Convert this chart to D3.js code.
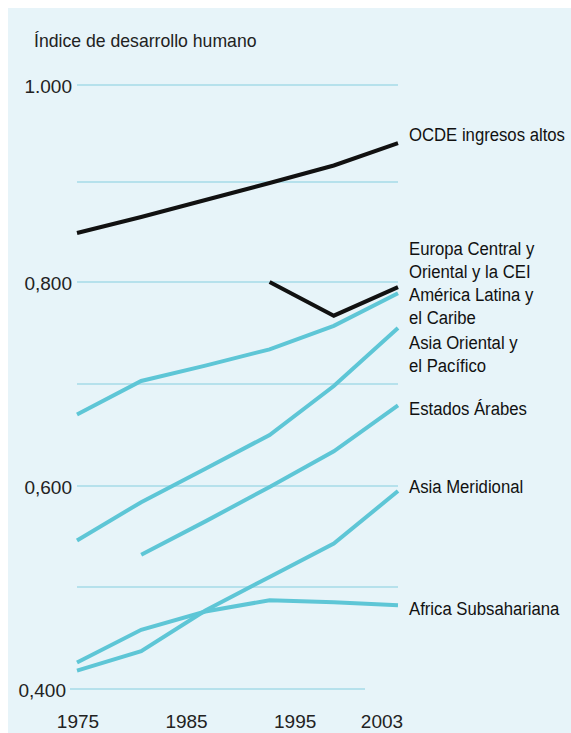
<!DOCTYPE html>
<html>
<head>
<meta charset="utf-8">
<script src="https://cdn.jsdelivr.net/npm/d3@7"></script>
<style>
  html, body { margin: 0; padding: 0; background: #ffffff; }
  svg { display: block; }
</style>
</head>
<body>
<svg id="chart" width="571" height="733"></svg>
<script>
// ---- data ----
const years = [1975, 1980, 1985, 1990, 1995, 2003];
const axisYears = [1975, 1985, 1995, 2003];
const yTicks = [0.4, 0.5, 0.6, 0.7, 0.8, 0.9, 1.0];
const yTickLabels = ["0,400", "", "0,600", "", "0,800", "", "1.000"];

const ocde        = [0.849, 0.865, 0.882, 0.899, 0.917, 0.940];
const europa      = [null, null, null, 0.800, 0.767, 0.795];
const latina      = [0.670, 0.703, 0.718, 0.734, 0.757, 0.789];
const asiaOriental= [0.546, 0.584, 0.617, 0.650, 0.698, 0.755];
const arabes      = [null, 0.532, 0.565, 0.599, 0.634, 0.679];
const meridional  = [0.418, 0.437, 0.477, 0.510, 0.543, 0.595];
const africa      = [0.426, 0.458, 0.476, 0.487, 0.485, 0.482];

const labelLines = [
  ["OCDE ingresos altos"],
  ["Europa Central y", "Oriental y la CEI"],
  ["América Latina y", "el Caribe"],
  ["Asia Oriental y", "el Pacífico"],
  ["Estados Árabes"],
  ["Asia Meridional"],
  ["Africa Subsahariana"]
];
const title = "Índice de desarrollo humano";

// ---- layout ----
const W = 571, H = 733;
const BLUE = "#5ec6d6", BLACK = "#111111", GRID = "#a6dbe7", BG = "#e7f4f9";
const font = "'Liberation Sans', Arial, sans-serif";

const svg = d3.select("#chart");
svg.append("rect").attr("x", 8).attr("y", 8).attr("width", W - 8).attr("height", H - 8).attr("fill", BG);

const x = d3.scalePoint().domain(years).range([77, 398]);
const xLabel = d3.scaleLinear().domain([1975, 2003]).range([78, 382]);
const y = d3.scaleLinear().domain(yTicks).range([689, 587, 486, 384, 282, 182, 85]);

// gridlines
svg.append("g").selectAll("line").data(yTicks).join("line")
  .attr("x1", d => d === 0.4 ? 70 : 77)
  .attr("x2", d => d === 0.4 ? 365 : 398)
  .attr("y1", d => y(d)).attr("y2", d => y(d))
  .attr("stroke", GRID).attr("stroke-width", 1.6);

// y tick labels
svg.append("g").selectAll("text").data(yTicks.map((d, i) => ({ v: d, t: yTickLabels[i] })).filter(d => d.t))
  .join("text")
  .attr("x", d => d.v === 0.4 ? 66 : 72)
  .attr("y", d => y(d.v) + 8)
  .attr("text-anchor", "end")
  .attr("font-family", font).attr("font-size", 19).attr("fill", "#222")
  .text(d => d.t);

// x axis labels
svg.append("g").selectAll("text").data(axisYears).join("text")
  .attr("x", d => xLabel(d)).attr("y", 728)
  .attr("text-anchor", "middle")
  .attr("font-family", font).attr("font-size", 19).attr("fill", "#222")
  .text(d => d);

// title
svg.append("text").attr("transform", "translate(34,47) scale(0.98,1)")
  .attr("font-family", font).attr("font-size", 18).attr("fill", "#222")
  .text(title);

// lines
const series = [
  { vals: ocde, color: BLACK },
  { vals: europa, color: BLACK },
  { vals: latina, color: BLUE },
  { vals: asiaOriental, color: BLUE },
  { vals: arabes, color: BLUE },
  { vals: meridional, color: BLUE },
  { vals: africa, color: BLUE }
];
const line = d3.line()
  .defined(d => d.v !== null)
  .x(d => x(d.year)).y(d => y(d.v));

const order = [6, 5, 4, 3, 2, 0, 1];
svg.append("g").selectAll("path").data(order.map(i => series[i])).join("path")
  .attr("d", s => line(years.map((yr, j) => ({ year: yr, v: s.vals[j] }))))
  .attr("fill", "none").attr("stroke", s => s.color)
  .attr("stroke-width", 4).attr("stroke-linejoin", "miter").attr("stroke-linecap", "butt");

// right labels
const labelBaselines = [141, 255, 301, 349, 415, 493, 615];
const lg = svg.append("g");
labelLines.forEach((lines, i) => {
  lines.forEach((t, k) => {
    lg.append("text")
      .attr("transform", `translate(409,${labelBaselines[i] + k * 22.5}) scale(0.88,1)`)
      .attr("font-family", font).attr("font-size", 19).attr("fill", "#111")
      .text(t);
  });
});
</script>
</body>
</html>
